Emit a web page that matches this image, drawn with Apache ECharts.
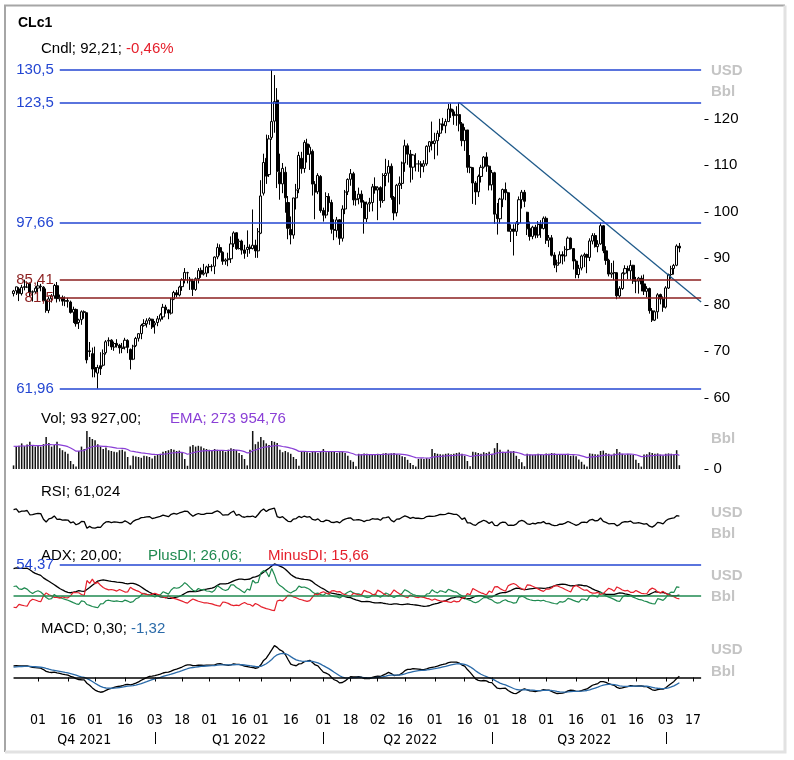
<!DOCTYPE html>
<html><head><meta charset="utf-8">
<script src="https://cdn.jsdelivr.net/npm/echarts@6.0.0/dist/echarts.min.js"></script>
<style>html,body{margin:0;padding:0;background:#fff;}#c{width:794px;height:760px;}</style>
</head><body><div id="c"></div>
<script>
// ---------- DATA ----------
// warm-up rows (not drawn, only used so the indicators start settled): [day, open, high, low, close]
const warmSep2021 = [[1,68.5,69.1,67.6,68.59],[2,68.6,70.3,68.4,69.99],[3,69.9,70.3,68.8,69.29],[7,69.3,69.7,67.9,68.35],[8,68.4,69.5,67.6,69.30],[9,69.3,69.5,67.6,68.14],[10,68.1,69.9,68.0,69.72],[13,69.7,70.8,69.2,70.45],[14,70.4,71.0,69.7,70.46],[15,70.5,72.8,70.0,72.61],[16,72.6,73.0,71.7,72.61],[17,72.6,72.8,71.3,71.97],[20,71.9,72.0,69.6,70.29],[21,70.3,71.5,70.0,70.56],[22,70.6,72.7,70.4,72.23],[23,72.2,73.6,72.0,73.30],[24,73.3,74.0,72.8,73.98],[27,74.0,75.6,73.7,75.45],[28,75.5,76.7,74.4,75.29],[29,75.3,75.6,73.6,74.83],[30,74.8,75.6,74.1,75.03]];
const warmOct2021 = [[1,75.0,76.0,74.0,75.88],[4,75.9,78.0,75.2,77.62],[5,77.6,79.5,77.4,78.93],[6,78.9,79.8,76.0,77.43],[7,77.4,78.6,76.1,78.30],[8,78.3,80.1,77.9,79.35],[11,79.4,82.2,79.2,80.52],[12,80.5,81.0,79.4,80.64],[13,80.6,81.0,79.0,80.44],[14,80.4,82.1,80.3,81.31],[15,81.3,82.6,81.1,82.28],[18,82.3,83.3,80.6,82.44]];
// drawn rows: [day, open, high, low, close, volume in thousands]
const oct2021 = [[19,82.4,83.2,81.8,82.96,90],[20,83.0,83.9,82.1,83.87,560],[21,83.4,83.8,80.8,82.50,580],[22,82.4,84.3,82.0,83.76,640],[25,83.9,85.4,83.1,83.76,570],[26,83.8,85.0,83.6,84.65,610],[27,84.6,84.8,81.7,82.66,680],[28,82.7,83.1,80.7,82.81,600],[29,82.8,84.0,82.5,83.57,560]];
const nov2021 = [[1,83.6,84.9,82.6,84.05,590],[2,84.0,84.5,82.9,83.91,560],[3,83.8,84.0,80.5,80.86,620],[4,80.9,83.5,78.3,78.81,800],[5,78.8,81.8,78.2,81.27,650],[8,81.3,82.3,80.5,81.93,560],[9,81.9,84.5,81.3,84.15,600],[10,84.1,84.9,80.5,81.34,680],[11,81.3,82.2,80.7,81.59,520],[12,81.6,82.0,79.8,80.79,470],[15,80.8,81.8,79.7,80.88,430],[16,80.9,81.5,79.4,80.76,380],[17,80.6,80.9,78.1,78.36,200],[18,78.4,79.6,76.1,79.01,120],[19,79.0,79.2,75.3,75.94,60],[22,76.2,77.0,74.8,76.75,450],[23,76.8,78.8,75.7,78.50,560],[24,78.5,78.8,77.0,78.39,500],[26,78.3,78.3,67.4,68.15,950],[29,70.1,72.0,68.8,69.95,800],[30,69.5,70.8,64.4,66.18,750]];
const dec2021 = [[1,66.5,71.0,64.4,65.57,720],[2,65.3,67.1,61.96,66.50,620],[3,66.9,69.8,64.9,66.26,560],[6,67.0,70.4,66.7,69.49,500],[7,69.7,72.4,69.3,72.05,540],[8,72.2,73.0,71.1,72.36,470],[9,72.4,72.6,70.3,70.94,450],[10,70.9,72.1,70.1,71.67,430],[13,71.7,72.6,70.8,71.29,420],[14,71.3,71.6,69.5,70.73,470],[15,70.6,71.8,69.6,70.87,480],[16,70.9,72.9,70.4,72.38,440],[17,72.3,72.6,69.6,70.86,300],[20,70.4,70.6,66.1,68.23,90],[21,68.3,71.4,68.1,71.12,330],[22,71.2,73.1,70.9,72.76,310],[23,72.8,73.9,72.1,73.79,300],[27,73.8,75.9,72.6,75.57,280],[28,75.6,76.9,75.3,75.98,330],[29,75.9,77.1,75.1,76.56,320],[30,76.6,77.3,75.7,76.99,300],[31,76.9,77.0,74.8,75.21,260]];
const jan2022 = [[3,75.7,76.5,73.8,76.08,330],[4,76.2,77.6,75.4,76.99,350],[5,76.9,78.2,76.4,77.85,380],[6,77.4,80.2,76.8,79.46,430],[7,79.5,80.0,78.1,78.90,450],[10,78.9,79.0,76.9,78.23,470],[11,78.2,81.5,77.9,81.22,500],[12,81.2,83.0,81.0,82.64,480],[13,82.6,83.2,81.6,82.12,450],[14,82.1,84.1,81.8,83.82,460],[18,83.9,85.7,83.0,85.43,420],[19,85.4,87.9,84.6,86.96,250],[20,86.9,87.1,84.6,86.90,80],[21,85.5,86.0,83.2,85.14,560],[24,85.1,85.6,81.9,83.31,600],[25,83.3,85.9,83.0,85.60,560],[26,85.6,87.9,84.6,87.35,580],[27,87.4,88.0,85.8,86.61,560],[28,86.6,88.8,86.3,86.82,520],[31,86.8,88.4,86.0,88.15,500]];
const feb2022 = [[1,88.2,88.8,86.8,88.20,480],[2,88.2,88.7,87.2,88.26,460],[3,88.3,90.4,86.6,90.27,500],[4,90.3,93.2,89.8,92.31,480],[7,92.3,93.0,90.6,91.32,450],[8,91.3,91.5,88.6,89.36,470],[9,89.4,90.0,88.6,89.66,430],[10,89.7,91.2,88.3,89.88,480],[11,89.9,94.7,89.0,93.10,520],[14,93.1,95.8,92.4,95.46,500],[15,95.5,95.6,91.8,92.07,470],[16,92.1,94.2,91.9,93.66,400],[17,93.7,94.0,90.8,91.76,350],[18,91.8,92.9,89.9,91.07,250],[22,91.9,96.0,90.3,92.35,90],[23,92.4,93.0,91.0,92.10,480],[24,92.1,100.5,91.9,92.81,950],[25,92.8,94.0,90.1,91.59,620],[28,91.6,96.5,90.1,95.72,680]];
const mar2022 = [[1,95.4,106.8,95.2,103.41,800],[2,104.0,112.5,103.5,110.60,720],[3,111.5,116.6,106.0,107.67,640],[4,108.0,116.5,107.5,115.68,600],[7,116.0,130.5,115.5,119.40,700],[8,119.5,129.4,117.0,123.70,680],[9,124.0,126.6,105.1,108.70,650],[10,108.5,112.5,102.6,106.02,480],[11,106.0,110.5,104.0,109.33,420],[14,108.5,109.7,99.8,103.01,450],[15,102.0,103.4,94.1,96.44,420],[16,96.2,99.0,93.0,95.04,380],[17,95.0,103.0,94.2,102.98,300],[18,103.0,106.0,100.5,104.70,250],[21,104.9,112.9,104.0,112.12,80],[22,111.5,112.9,108.2,109.27,430],[23,109.3,115.4,108.4,114.93,440],[24,114.6,115.7,110.6,112.34,420],[25,112.4,114.5,109.0,113.90,400],[28,113.0,113.4,103.5,105.96,430],[29,105.9,106.6,98.4,104.24,450],[30,104.3,108.3,103.8,107.82,400],[31,107.6,107.9,99.8,100.28,440]];
const apr2022 = [[1,100.3,100.9,97.9,99.27,500],[4,99.3,104.2,98.6,103.28,420],[5,103.3,104.0,100.0,101.96,430],[6,102.0,102.6,95.3,96.23,450],[7,96.2,98.4,93.9,96.03,440],[8,96.0,98.9,94.5,98.26,400],[11,98.3,98.4,92.9,94.29,420],[12,94.3,101.4,93.6,100.60,430],[13,100.6,104.7,99.5,104.25,400],[14,104.3,107.2,103.6,106.95,330],[18,107.0,109.2,105.6,108.21,220],[19,108.2,108.6,101.4,102.56,180],[20,102.6,104.5,101.3,102.75,70],[21,102.8,105.2,101.6,103.79,380],[22,103.8,104.6,100.8,102.07,370],[25,102.1,102.5,95.3,98.54,390],[26,98.5,102.2,97.8,101.70,380],[27,101.7,103.0,100.0,102.02,350],[28,102.0,106.0,100.1,105.36,370],[29,105.4,107.4,103.9,104.69,360]];
const may2022 = [[2,104.7,105.5,98.2,105.17,380],[3,105.2,105.5,100.9,102.41,370],[4,102.4,108.3,101.9,107.81,390],[5,107.8,111.4,105.5,108.26,400],[6,108.3,111.1,106.3,109.77,380],[9,109.8,110.4,102.6,103.09,390],[10,103.1,103.4,98.2,99.76,400],[11,99.8,106.0,99.0,105.71,370],[12,105.7,107.6,101.6,106.13,350],[13,106.1,110.8,104.9,110.49,320],[16,110.5,115.5,108.6,114.20,300],[17,114.2,114.7,110.1,112.40,230],[18,112.4,113.3,106.3,109.59,150],[19,109.6,112.4,106.9,112.21,100],[20,110.3,112.6,108.7,110.28,60],[23,110.3,111.1,108.6,110.29,250],[24,110.3,110.9,107.3,109.77,260],[25,109.8,111.1,108.5,110.33,250],[26,110.3,114.3,109.9,114.09,270],[27,114.1,115.2,112.8,115.07,250],[31,115.1,119.4,113.2,114.67,500]];
const jun2022 = [[1,114.7,117.0,111.3,115.26,400],[2,115.3,117.5,112.1,116.87,380],[3,116.9,120.0,116.1,118.87,370],[6,118.9,120.2,117.5,118.50,360],[7,118.5,120.0,116.9,119.41,380],[8,119.4,123.2,119.3,122.11,390],[9,122.1,123.3,120.2,121.51,370],[10,121.5,122.0,118.7,120.67,380],[13,120.7,122.7,118.5,120.93,400],[14,120.9,123.5,117.3,118.93,410],[15,118.9,119.3,114.1,115.31,380],[16,115.3,118.2,113.1,117.59,330],[17,117.6,117.6,108.4,109.56,200],[21,109.6,112.2,108.3,109.52,70],[22,109.5,109.6,101.7,106.19,430],[23,106.2,106.6,101.5,104.27,420],[24,104.3,108.0,103.2,107.62,400],[27,107.6,110.1,106.3,109.57,380],[28,109.6,112.0,109.3,111.76,420],[29,111.8,112.8,108.6,109.78,400],[30,109.8,110.0,104.6,105.76,430]];
const jul2022 = [[1,105.8,109.0,104.6,108.43,380],[5,108.4,108.6,97.4,99.50,520],[6,99.5,101.9,95.1,98.53,650],[7,98.5,103.0,97.5,102.73,480],[8,102.7,105.0,101.0,104.79,430],[11,104.8,106.3,102.5,104.09,420],[12,104.1,104.3,95.8,95.84,480],[13,95.8,97.3,93.5,96.30,440],[14,96.3,97.3,90.6,95.78,450],[15,95.8,98.0,94.8,97.59,330],[18,97.6,103.3,97.2,102.60,250],[19,102.6,104.7,100.7,104.22,170],[20,104.2,104.7,101.0,102.26,70],[21,99.9,100.0,95.0,96.35,380],[22,96.4,97.9,93.8,94.70,360],[25,94.7,97.0,94.1,96.70,350],[26,96.7,97.2,94.3,94.98,360],[27,95.0,98.0,94.4,97.26,380],[28,97.3,98.2,94.4,96.42,370],[29,96.4,99.0,96.2,98.62,350]];
const aug2022 = [[1,98.6,99.0,93.1,93.89,390],[2,93.9,95.0,92.4,94.42,380],[3,94.4,95.0,90.4,90.66,400],[4,90.7,91.3,87.9,88.54,390],[5,88.5,89.7,87.0,89.01,370],[8,89.0,91.5,88.9,90.76,360],[9,90.8,91.5,88.7,90.50,350],[10,90.5,92.6,89.3,91.93,360],[11,91.9,94.7,91.7,94.34,380],[12,94.3,94.5,91.9,92.09,330],[15,92.1,92.2,87.6,89.41,340],[16,89.4,89.8,85.7,86.53,320],[17,86.5,88.6,85.7,87.85,240],[18,87.9,90.8,87.4,90.50,180],[19,90.5,91.2,88.1,90.77,110],[22,90.8,91.0,86.8,90.23,60],[23,90.2,94.3,89.4,93.74,390],[24,93.7,95.4,93.0,94.89,380],[25,94.9,95.4,92.3,92.52,370],[26,92.5,93.9,91.3,93.06,360],[29,93.1,97.7,92.9,97.01,450],[30,97.0,97.1,91.1,91.64,460],[31,91.6,92.6,88.6,89.55,400]];
const sep2022 = [[1,89.6,89.9,86.1,86.61,380],[2,86.6,89.0,85.8,86.87,350],[6,86.9,89.5,85.3,86.88,390],[7,86.9,87.0,81.2,81.94,500],[8,81.9,84.0,81.5,83.54,420],[9,83.5,87.0,83.2,86.79,380],[12,86.8,88.5,86.5,87.78,350],[13,87.8,88.4,85.5,87.31,380],[14,87.3,89.6,85.4,88.48,360],[15,88.5,88.6,84.5,85.10,350],[16,85.1,86.0,82.5,85.11,230],[19,85.1,86.0,82.4,85.73,150],[20,85.7,86.3,82.9,84.45,60],[21,84.5,86.5,82.1,82.94,360],[22,82.9,84.0,81.6,83.49,370],[23,83.5,83.7,78.1,78.74,420],[26,78.7,79.3,76.3,76.71,400],[27,76.7,78.8,76.5,78.50,380],[28,78.5,82.5,77.0,82.15,390],[29,82.2,82.4,80.1,81.23,360],[30,81.2,81.8,78.5,79.49,340]];
const oct2022 = [[3,79.5,84.0,79.2,83.63,380],[4,83.6,86.7,83.4,86.52,390],[5,86.5,88.4,85.6,87.76,380],[6,87.8,88.8,86.5,88.45,370],[7,88.5,93.0,88.3,92.64,470],[10,92.6,93.3,91.3,92.21,93.927]];
const futureOct2022 = [11,12,13,14,17,18,19,20];   // empty axis days after the last candle

const warmMonths  = [['2021-09', warmSep2021], ['2021-10', warmOct2021]];
const shownMonths = [['2021-10', oct2021], ['2021-11', nov2021], ['2021-12', dec2021], ['2022-01', jan2022], ['2022-02', feb2022], ['2022-03', mar2022], ['2022-04', apr2022], ['2022-05', may2022], ['2022-06', jun2022], ['2022-07', jul2022], ['2022-08', aug2022], ['2022-09', sep2022], ['2022-10', oct2022]];

// axis labels
const tickDates = ['2021-11-01','2021-11-16','2021-12-01','2021-12-16','2022-01-03','2022-01-18','2022-02-01','2022-02-16','2022-03-01','2022-03-16','2022-04-01','2022-04-18','2022-05-02','2022-05-16','2022-06-01','2022-06-16','2022-07-01','2022-07-18','2022-08-01','2022-08-16','2022-09-01','2022-09-16','2022-10-03','2022-10-17'];
const quarterStarts = ['2022-01-03','2022-04-01','2022-07-01','2022-10-03'];
const quarterLabels = [['2021-11-24','Q4 2021'],['2022-02-16','Q1 2022'],['2022-05-18','Q2 2022'],['2022-08-19','Q3 2022']];
const priceTicks = [60,70,80,90,100,110,120];

// drawn levels
const blueLevels = [[130.5,'130,5'],[123.5,'123,5'],[97.66,'97,66'],[61.96,'61,96']];
const redLevels  = [[85.41,'85,41'],[81.5,'81,5']];
const levelFrom = '2021-11-11', levelTo = '2022-10-20';
const trendLine = [['2022-06-14',123.5],['2022-10-20',80.6]];
const adxLevel = [54.37,'54,37'];
const adxBase = 20;

// ---------- BUILD ----------
const pad = n => String(n).padStart(2,'0');
const D=[],O=[],H=[],L=[],C=[],V=[];
for (const [ym, rows] of warmMonths) for (const r of rows) { D.push(ym+'-'+pad(r[0])); O.push(r[1]); H.push(r[2]); L.push(r[3]); C.push(r[4]); V.push(null); }
const s0 = D.length;
for (const [ym, rows] of shownMonths) for (const r of rows) { D.push(ym+'-'+pad(r[0])); O.push(r[1]); H.push(r[2]); L.push(r[3]); C.push(r[4]); V.push(r[5]*1000); }
const cats = D.slice(s0).concat(futureOct2022.map(d => '2022-10-'+pad(d)));
const nAll = D.length;

// indicators derived from the price / volume rows
function ema(arr, n, start) { const k=2/(n+1); const out=new Array(arr.length).fill(null); let e=arr[start]; out[start]=e; for (let i=start+1;i<arr.length;i++){ e=arr[i]*k+e*(1-k); out[i]=e; } return out; }
const e12 = ema(C,12,0), e26 = ema(C,26,0);
const macd = C.map((_,i)=>e12[i]-e26[i]);
const signal = ema(macd,9,0);
// RSI 14 (Wilder)
const rsi = new Array(nAll).fill(null);
{ let ag=0, al=0; for (let i=1;i<=14;i++){ const d=C[i]-C[i-1]; if(d>0) ag+=d; else al-=d; } ag/=14; al/=14; rsi[14]=100-100/(1+ag/al);
  for (let i=15;i<nAll;i++){ const d=C[i]-C[i-1]; ag=(ag*13+Math.max(d,0))/14; al=(al*13+Math.max(-d,0))/14; rsi[i]= al===0?100:100-100/(1+ag/al); } }
// DMI / ADX 14 (Wilder)
const pdi=new Array(nAll).fill(null), mdi=new Array(nAll).fill(null), adx=new Array(nAll).fill(null), dx=new Array(nAll).fill(null);
{ const N=14; let sT=0,sP=0,sM=0;
  for (let i=1;i<nAll;i++){
    const tr=Math.max(H[i]-L[i],Math.abs(H[i]-C[i-1]),Math.abs(L[i]-C[i-1]));
    const up=H[i]-H[i-1], dn=L[i-1]-L[i];
    const p=(up>dn&&up>0)?up:0, m=(dn>up&&dn>0)?dn:0;
    if (i<=N){ sT+=tr; sP+=p; sM+=m; } else { sT=sT-sT/N+tr; sP=sP-sP/N+p; sM=sM-sM/N+m; }
    if (i>=N){ pdi[i]=100*sP/sT; mdi[i]=100*sM/sT; dx[i]=100*Math.abs(pdi[i]-mdi[i])/(pdi[i]+mdi[i]); }
    if (i===2*N-1){ let s=0; for(let j=N;j<=i;j++) s+=dx[j]; adx[i]=s/N; }
    else if (i>2*N-1){ adx[i]=(adx[i-1]*(N-1)+dx[i])/N; }
  } }
// volume EMA 20
const vShown = V.slice(s0);
const vEma = new Array(vShown.length).fill(null);
{ const n=20,k=2/(n+1); let e=vShown.slice(0,n).reduce((a,b)=>a+b,0)/n; for(let i=0;i<vShown.length;i++){ e = i===0? e : vShown[i]*k+e*(1-k); vEma[i]=e; } }

const shown = a => a.slice(s0);
const candle = [];
for (let i=s0;i<nAll;i++) candle.push([O[i],C[i],L[i],H[i]]);

// ---------- CHART ----------
const FONT = "'Liberation Sans', Arial, sans-serif";
const NARROW = "'Liberation Sans Narrow', 'Arial Narrow', 'DejaVu Sans Condensed', 'Liberation Sans', sans-serif";
const LEFT = 12.18, WIDTH = 690.3;
const BLUE = '#2346d2', DRED = '#8b1f1f', GREEN = '#1f8a50', RED = '#e5202c', PURPLE = '#8a3fd6', STEEL = '#2a6aa8';
const grids = [
  {left:LEFT, width:WIDTH, top:63, height:334.8},
  {left:LEFT, width:WIDTH, top:429, height:40},
  {left:LEFT, width:WIDTH, top:502, height:36},
  {left:LEFT, width:WIDTH, top:559.4, height:54.6},
  {left:LEFT, width:WIDTH, top:637.5, height:64}
];
const tickSet = new Set(tickDates), qStartSet = new Set(quarterStarts), qMap = Object.fromEntries(quarterLabels);
const xAxes = grids.map((g,i)=>({type:'category', gridIndex:i, data:cats, boundaryGap:true, show:false}));
xAxes[4] = {type:'category', gridIndex:4, data:cats, boundaryGap:true, position:'bottom', offset:3.5,
  axisLine:{show:false}, splitLine:{show:false},
  axisTick:{show:true, alignWithLabel:true, length:4, interval:(i,v)=>tickSet.has(v), lineStyle:{color:'#000', width:1}},
  axisLabel:{interval:(i,v)=>tickSet.has(v), formatter:v=>v.slice(8), margin:8, fontSize:14, fontFamily:NARROW, color:'#000'}};
xAxes.push({type:'category', gridIndex:4, data:cats, boundaryGap:true, position:'bottom', offset:30.5,
  axisLine:{show:false}, splitLine:{show:false},
  axisTick:{show:true, alignWithLabel:true, length:12, interval:(i,v)=>qStartSet.has(v), lineStyle:{color:'#000', width:1}},
  axisLabel:{interval:(i,v)=>qMap[v]!==undefined, formatter:v=>qMap[v]||'', margin:1, fontSize:14, fontFamily:NARROW, color:'#000'}});

const yAxes = [
  {type:'value', gridIndex:0, position:'right', offset:2, min:60, max:132, scale:true,
    axisLine:{show:false}, splitLine:{show:false},
    axisTick:{show:true, length:4, customValues:priceTicks, lineStyle:{color:'#000'}},
    axisLabel:{customValues:priceTicks, fontSize:15, fontFamily:FONT, color:'#000', margin:9}},
  {type:'value', gridIndex:1, position:'right', offset:2, min:0, max:1000000,
    axisLine:{show:false}, splitLine:{show:false},
    axisTick:{show:true, length:4, customValues:[0], lineStyle:{color:'#000'}},
    axisLabel:{customValues:[0], fontSize:15, fontFamily:FONT, color:'#000', margin:9}},
  {type:'value', gridIndex:2, min:0, max:100, show:false},
  {type:'value', gridIndex:3, min:0, max:60, show:false},
  {type:'value', gridIndex:4, min:-6, max:10, show:false}
];

function hLine(value, color, from, label) {
  const item = [{coord:[from, value], lineStyle:{color, width:1.5, type:'solid'},
      label: label ? {show:true, position:'start', formatter:label, color, fontSize:15, fontFamily:FONT, distance:6} : {show:false}},
    {coord:[levelTo, value]}];
  return item;
}
const line = (name, xi, data, color, w) => ({name, type:'line', xAxisIndex:xi, yAxisIndex:xi, data, symbol:'none', showSymbol:false, lineStyle:{color, width:w||1.2}, itemStyle:{color}, z:3});

const series = [
  {type:'candlestick', xAxisIndex:0, yAxisIndex:0, data:candle, barWidth:2.6, large:false,
    itemStyle:{color:'#fff', color0:'#000', borderColor:'#000', borderColor0:'#000', borderWidth:1},
    markLine:{silent:true, symbol:['none','none'], animation:false,
      data: blueLevels.map(([v,t])=>hLine(v,BLUE,levelFrom,t)).concat(redLevels.map(([v,t])=>hLine(v,DRED,levelFrom,t)))}},
  line('trend',0,trendLine,'#1f5a8a',1.3),
  {type:'bar', xAxisIndex:1, yAxisIndex:1, data:vShown, barWidth:1.5, large:false, itemStyle:{color:'#111'}},
  line('vema',1,vEma,PURPLE,1.2),
  line('rsi',2,shown(rsi),'#000',1.3),
  Object.assign(line('adx',3,shown(adx),'#000',1.3), {markLine:{silent:true, symbol:['none','none'], animation:false,
      data:[hLine(adxLevel[0],BLUE,levelFrom,adxLevel[1]), hLine(adxBase,GREEN,cats[0],null)]}}),
  line('pdi',3,shown(pdi),GREEN,1.2),
  line('mdi',3,shown(mdi),RED,1.2),
  Object.assign(line('macd',4,shown(macd),'#000',1.3), {markLine:{silent:true, symbol:['none','none'], animation:false,
      data:[hLine(0,'#000',cats[0],null)]}}),
  line('signal',4,shown(signal),STEEL,1.3)
];

const txt = (x,y,text,opt) => ({type:'text', x, y, silent:true, style:Object.assign({text, fill:'#000', font:`15px ${FONT}`, textVerticalAlign:'middle', verticalAlign:'middle'}, opt||{})});
const gray = (x,y,t) => txt(x,y,t,{fill:'#c4c4c4', font:`bold 15px ${FONT}`});
const graphic = [
  {type:'polyline', silent:true, shape:{points:[[5,752],[5,5.5],[785,5.5]]}, style:{stroke:'#a6a6a6', lineWidth:2, fill:null}},
  {type:'polyline', silent:true, shape:{points:[[785,5.5],[785,752],[5,752]]}, style:{stroke:'#e2e2e2', lineWidth:3, fill:null}},
  txt(18,23,'CLc1',{font:`bold 14px ${FONT}`}),
  {type:'text', x:41, y:49, silent:true, style:{text:'{a|Cndl; 92,21; }{r|-0,46%}', verticalAlign:'middle', font:`15px ${FONT}`,
      rich:{a:{fill:'#000', font:`15px ${FONT}`}, r:{fill:RED, font:`15px ${FONT}`}}}},
  txt(41,419,'Vol; 93 927,00;'), txt(170,419,'EMA; 273 954,76',{fill:PURPLE}),
  txt(41,492,'RSI; 61,024'),
  txt(41,556,'ADX; 20,00;'), txt(148,556,'PlusDI; 26,06;',{fill:GREEN}), txt(268,556,'MinusDI; 15,66',{fill:RED}),
  {type:'text', x:41, y:629, silent:true, style:{text:'{a|MACD; 0,30; }{b|-1,32}', verticalAlign:'middle', font:`15px ${FONT}`,
      rich:{a:{fill:'#000', font:`15px ${FONT}`}, b:{fill:STEEL, font:`15px ${FONT}`}}}},
  gray(711,71,'USD'), gray(711,92,'Bbl'),
  gray(711,439,'Bbl'),
  gray(711,513,'USD'), gray(711,534,'Bbl'),
  gray(711,576,'USD'), gray(711,597,'Bbl'),
  gray(711,650,'USD'), gray(711,672,'Bbl')
];

const chart = echarts.init(document.getElementById('c'), null, {renderer:'canvas'});
chart.setOption({animation:false, backgroundColor:'#fff', grid:grids, xAxis:xAxes, yAxis:yAxes, series, graphic});
</script></body></html>
